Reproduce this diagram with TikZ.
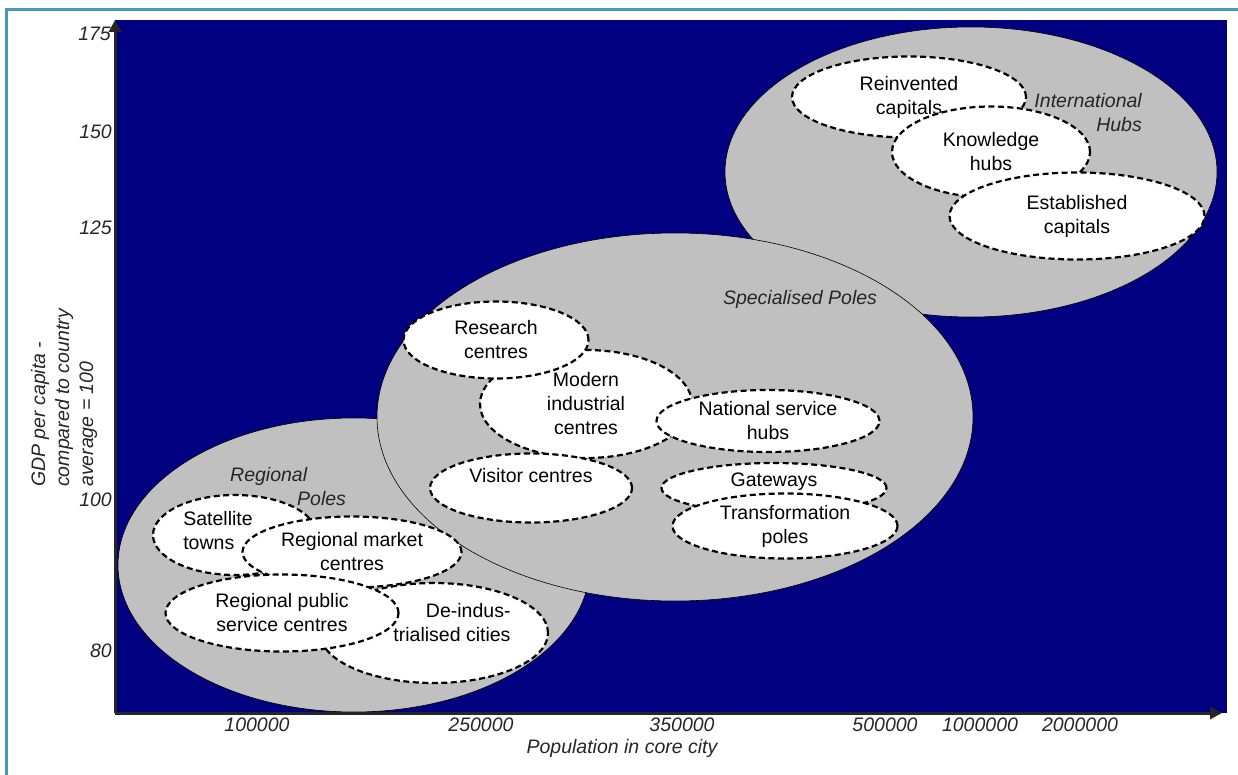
\documentclass[tikz,border=0pt]{standalone}
\usepackage{fontspec}
\setmainfont{Liberation Sans}
\usetikzlibrary{shapes.geometric,arrows.meta}
\definecolor{plotnavy}{RGB}{0,0,128}
\definecolor{polegrey}{RGB}{192,192,192}
\definecolor{frameteal}{RGB}{70,155,175}
\newcommand{\lblfont}{\fontsize{19.5}{24}\selectfont}

\begin{document}
\begin{tikzpicture}[x=1pt,y=-1pt,
    pole/.style={ellipse,fill=polegrey,draw=black,line width=0.6pt,inner sep=0pt},
    cell/.style={ellipse,fill=white,draw=black,line width=2.2pt,dash pattern=on 6pt off 3.5pt,inner sep=0pt,align=center,font=\lblfont},
    txt/.style={inner sep=0pt,font=\lblfont},
    grp/.style={inner sep=0pt,font=\lblfont\itshape,text=black!85},
    tick/.style={inner sep=0pt,font=\lblfont\itshape,text=black!85},
    axis/.style={line width=3pt,draw=black!85,-{Triangle[length=12pt,width=12pt]}}]
    \useasboundingbox (0,0) rectangle (1238,775);
    \draw[frameteal,line width=3pt] (6,775) -- (6,10) -- (1238,10);
    \fill[plotnavy] (115,20) rectangle (1227,713);
    % large poles
    \node[pole,minimum width=492pt,minimum height=290pt] (intl) at (971,172) {};
    \node[pole,minimum width=472pt,minimum height=294pt] (regional) at (354,565) {};
    \node[pole,minimum width=596pt,minimum height=368pt] (special) at (675,417) {};
    % regional poles
    \node[cell,minimum width=164pt,minimum height=80pt] (satellite) at (235,535) {};
    \node[cell,minimum width=228pt,minimum height=100pt] (deind) at (434,633) {};
    \node[cell,minimum width=219pt,minimum height=71pt] (market) at (352,552) {Regional market\\centres};
    \node[cell,minimum width=233pt,minimum height=77pt] (public) at (282,613) {Regional public\\service centres};
    \node[txt,align=left] (satellite-t) at (218,531) {Satellite\\towns};
    \node[txt,align=right] (deind-t) at (452,623) {De-indus-\\trialised cities};
    % specialised poles
    \node[cell,minimum width=212pt,minimum height=108pt] (modern) at (586,404) {Modern\\industrial\\centres};
    \node[cell,minimum width=185pt,minimum height=77pt] (research) at (496,340) {Research\\centres};
    \node[cell,minimum width=223pt,minimum height=62pt] (national) at (768,421) {National service\\hubs};
    \node[cell,minimum width=202pt,minimum height=69pt] (visitor) at (531,488) {};
    \node[txt] (visitor-t) at (531,476) {Visitor centres};
    \node[cell,minimum width=225pt,minimum height=50pt] (gateways) at (774,488) {};
    \node[cell,minimum width=225pt,minimum height=65pt] (transform) at (785,526) {Transformation\\poles};
    \node[txt] (gateways-t) at (774,482) {Gateways};
    % international hubs
    \node[cell,minimum width=234pt,minimum height=81pt] (reinvented) at (909,97) {Reinvented\\capitals};
    \node[cell,minimum width=198pt,minimum height=91pt] (knowledge) at (991,152) {Knowledge\\hubs};
    \node[cell,minimum width=255pt,minimum height=87pt] (established) at (1077,216) {Established\\capitals};
    % group names
    \node[grp,align=right,anchor=east] (intl-t) at (1142,113) {International\\Hubs};
    \node[grp] (special-t) at (800,299) {Specialised Poles};
    \node[grp,align=left,anchor=west] (regional-t) at (230,487) {Regional\\\hspace{67pt}Poles};
    % axes
    \coordinate (origin) at (115,713);
    \coordinate (ytop) at (115,20);
    \coordinate (xend) at (1222,713);
    \draw[axis] (origin) -- (ytop);
    \draw[axis] (origin) -- (xend);
    \node[tick,anchor=east] (y175) at (111,34) {175};
    \node[tick,anchor=east] (y150) at (112,132) {150};
    \node[tick,anchor=east] (y125) at (112,228) {125};
    \node[tick,anchor=east] (y100) at (112,500) {100};
    \node[tick,anchor=east] (y80) at (112,651) {80};
    \node[tick] (x1) at (257,725) {100000};
    \node[tick] (x2) at (481,725) {250000};
    \node[tick] (x3) at (682,725) {350000};
    \node[tick] (x4) at (885,725) {500000};
    \node[tick] (x5) at (980,725) {1000000};
    \node[tick] (x6) at (1080,725) {2000000};
    \node[tick] (xlabel) at (622,748) {Population in core city};
    \node[tick,rotate=90,align=left,anchor=west] (ylabel) at (64,487) {GDP per capita -\\compared to country\\average = 100};
\end{tikzpicture}
\end{document}
